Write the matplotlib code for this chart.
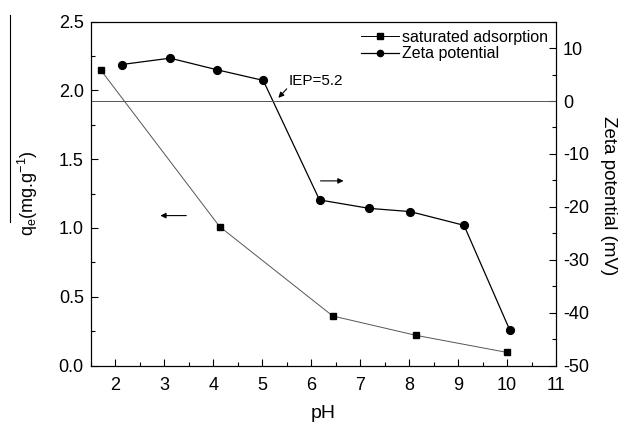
import matplotlib
matplotlib.use("Agg")
import matplotlib.pyplot as plt
from matplotlib.lines import Line2D
from matplotlib.ticker import MultipleLocator, FormatStrFormatter

plt.rcParams['font.family'] = ['Liberation Sans', 'DejaVu Sans']
plt.rcParams['mathtext.fontset'] = 'custom'
plt.rcParams['mathtext.rm'] = 'Liberation Sans'
plt.rcParams['mathtext.it'] = 'Liberation Sans'
plt.rcParams['axes.unicode_minus'] = False

ph_ads = [1.7, 4.13, 6.44, 8.13, 10.0]
q_ads = [2.15, 1.01, 0.36, 0.22, 0.095]
ph_zeta = [2.13, 3.12, 4.08, 5.02, 6.17, 7.19, 8.02, 9.12, 10.05]
zeta = [6.9, 8.1, 5.9, 3.9, -18.7, -20.3, -20.9, -23.5, -43.2]
xticks = [2, 3, 4, 5, 6, 7, 8, 9, 10, 11]

fig = plt.figure(figsize=(6.22, 4.25), dpi=100)
ax = fig.add_axes([0.146, 0.140, 0.748, 0.809])
ax2 = ax.twinx()

l1, = ax.plot(ph_ads, q_ads, color='#555555', lw=0.7, marker='s', ms=4.8,
              mfc='black', mec='black', label='saturated adsorption')
l2, = ax2.plot(ph_zeta, zeta, color='black', lw=0.9, marker='o', ms=5.6,
               mfc='black', mec='black', label='Zeta potential')
ax2.axhline(0, color='#555555', lw=0.7)

ax.set_xlim(1.5, 11)
ax.set_ylim(0, 2.5)
ax2.set_ylim(-50, 15)
ax.set_xticks(xticks)
ax.xaxis.set_minor_locator(MultipleLocator(0.5))
ax.yaxis.set_major_locator(MultipleLocator(0.5))
ax.yaxis.set_minor_locator(MultipleLocator(0.25))
ax.yaxis.set_major_formatter(FormatStrFormatter('%.1f'))
ax2.yaxis.set_major_locator(MultipleLocator(10))
ax2.yaxis.set_minor_locator(MultipleLocator(5))

for a in (ax, ax2):
    a.tick_params(which='both', direction='in', labelsize=13, top=False)
    a.tick_params(which='major', length=5, width=0.8)
    a.tick_params(which='minor', length=3, width=0.8)
ax.tick_params(axis='y', right=False, pad=5)
ax2.tick_params(axis='y', left=False, pad=5)
ax.tick_params(axis='x', pad=8)

ax.set_xlabel('pH', fontsize=14, labelpad=8)
ax.set_ylabel('q$_\\mathrm{e}$(mg.g$^{-1}$)', fontsize=13)
ax.yaxis.set_label_coords(-0.11, 0.5)
ax2.set_ylabel('Zeta potential (mV)', fontsize=13.5, rotation=270, va='center')
ax2.yaxis.set_label_coords(1.113, 0.493)

# arrows indicating which axis each curve belongs to
ax.annotate('', xy=(2.92, 1.09), xytext=(3.45, 1.09),
            arrowprops=dict(arrowstyle='-|>', color='black', lw=0.8,
                            mutation_scale=8, shrinkA=0, shrinkB=0))
ax2.annotate('', xy=(6.66, -15.1), xytext=(6.19, -15.1),
             arrowprops=dict(arrowstyle='-|>', color='black', lw=0.8,
                             mutation_scale=8, shrinkA=0, shrinkB=0))
ax2.annotate('', xy=(5.33, 0.6), xytext=(5.5, 2.3),
             arrowprops=dict(arrowstyle='-|>', color='black', lw=0.8,
                             mutation_scale=8, shrinkA=0, shrinkB=0))
ax2.text(5.53, 3.1, 'IEP=5.2', fontsize=11, va='baseline', ha='left')

leg = ax.legend(handles=[l1, l2], loc='upper right', frameon=False,
                fontsize=11.5, handlelength=2.4, handletextpad=0.2,
                borderaxespad=0.3, borderpad=0.2, labelspacing=0.1,
                markerscale=0.8, bbox_to_anchor=(1.0, 1.0))
for h in leg.legend_handles:
    h.set_color('black')

fig.add_artist(Line2D([0.016, 0.016], [0.478, 0.965], color='black', lw=0.8,
                      transform=fig.transFigure))

fig.savefig('out.png', dpi=100)
